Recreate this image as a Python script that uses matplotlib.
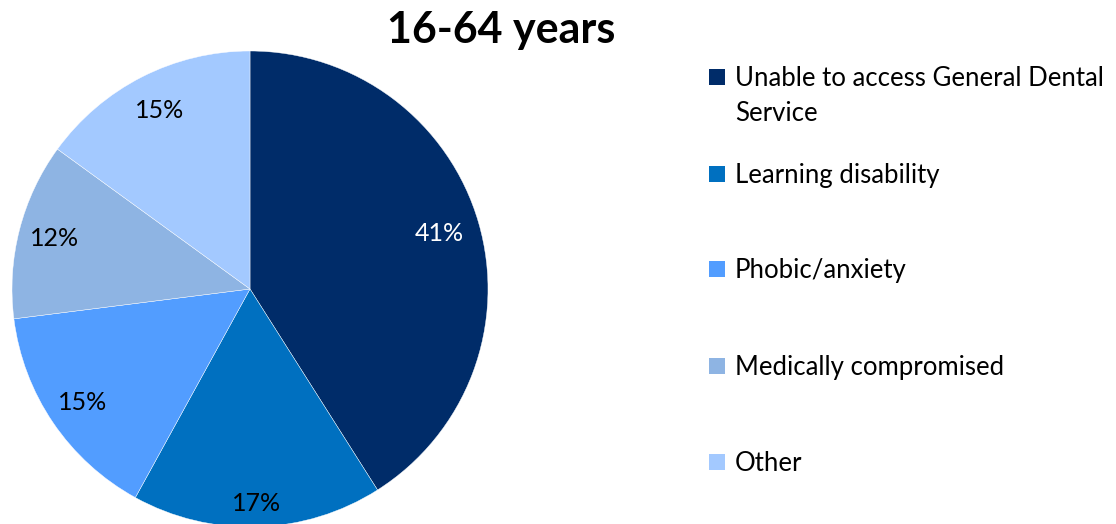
import matplotlib
matplotlib.use("Agg")
import numpy as np
import matplotlib.pyplot as plt
from matplotlib.patches import Rectangle

plt.rcParams['font.family'] = ['Lato', 'DejaVu Sans']

title = "16-64 years"
categories = [
    "Unable to access General Dental\nService",
    "Learning disability",
    "Phobic/anxiety",
    "Medically compromised",
    "Other",
]
shares = [41, 17, 15, 12, 15]
colors = ["#002C69", "#0070C0", "#529DFF", "#8EB4E3", "#A3C9FF"]
label_colors = ["white", "black", "black", "black", "black"]
label_radius = [0.83, 0.90, 0.85, 0.85, 0.84]

W, H = 1116, 524
fig = plt.figure(figsize=(W / 100, H / 100), dpi=100)

# pie area: centre (250, 289) px, radius 238 px
cx, cy, r = 250, 289, 238
ax = fig.add_axes([(cx - r) / W, (H - cy - r) / H, 2 * r / W, 2 * r / H])
wedges, texts, autotexts = ax.pie(
    shares, colors=colors, startangle=90, counterclock=False, radius=1,
    autopct=lambda p: f"{p:.0f}%", pctdistance=0.85,
    wedgeprops=dict(linewidth=0.3, edgecolor="white"),
    textprops=dict(fontsize=18),
)
for w, t, c, d in zip(wedges, autotexts, label_colors, label_radius):
    ang = np.deg2rad((w.theta1 + w.theta2) / 2)
    t.set_position((d * np.cos(ang), d * np.sin(ang)))
    t.set_color(c)
ax.set_xlim(-1, 1)
ax.set_ylim(-1, 1)
ax.set_aspect("equal")
ax.axis("off")

fig.text(501 / W, 1 - 30 / H, title, ha="center", va="center",
         fontsize=31, fontweight="bold")

# legend: square aligned with the first line of each entry
legend_y = [77, 174, 269, 366, 462]
sq = 16
for name, col, y in zip(categories, colors, legend_y):
    fig.add_artist(Rectangle((709 / W, 1 - (y + sq / 2) / H), sq / W, sq / H,
                             transform=fig.transFigure, facecolor=col,
                             edgecolor="none"))
    fig.text(735 / W, 1 - (y - 11) / H, name, ha="left", va="top",
             fontsize=18.5, linespacing=1.5)

fig.savefig("out.png", dpi=100)
